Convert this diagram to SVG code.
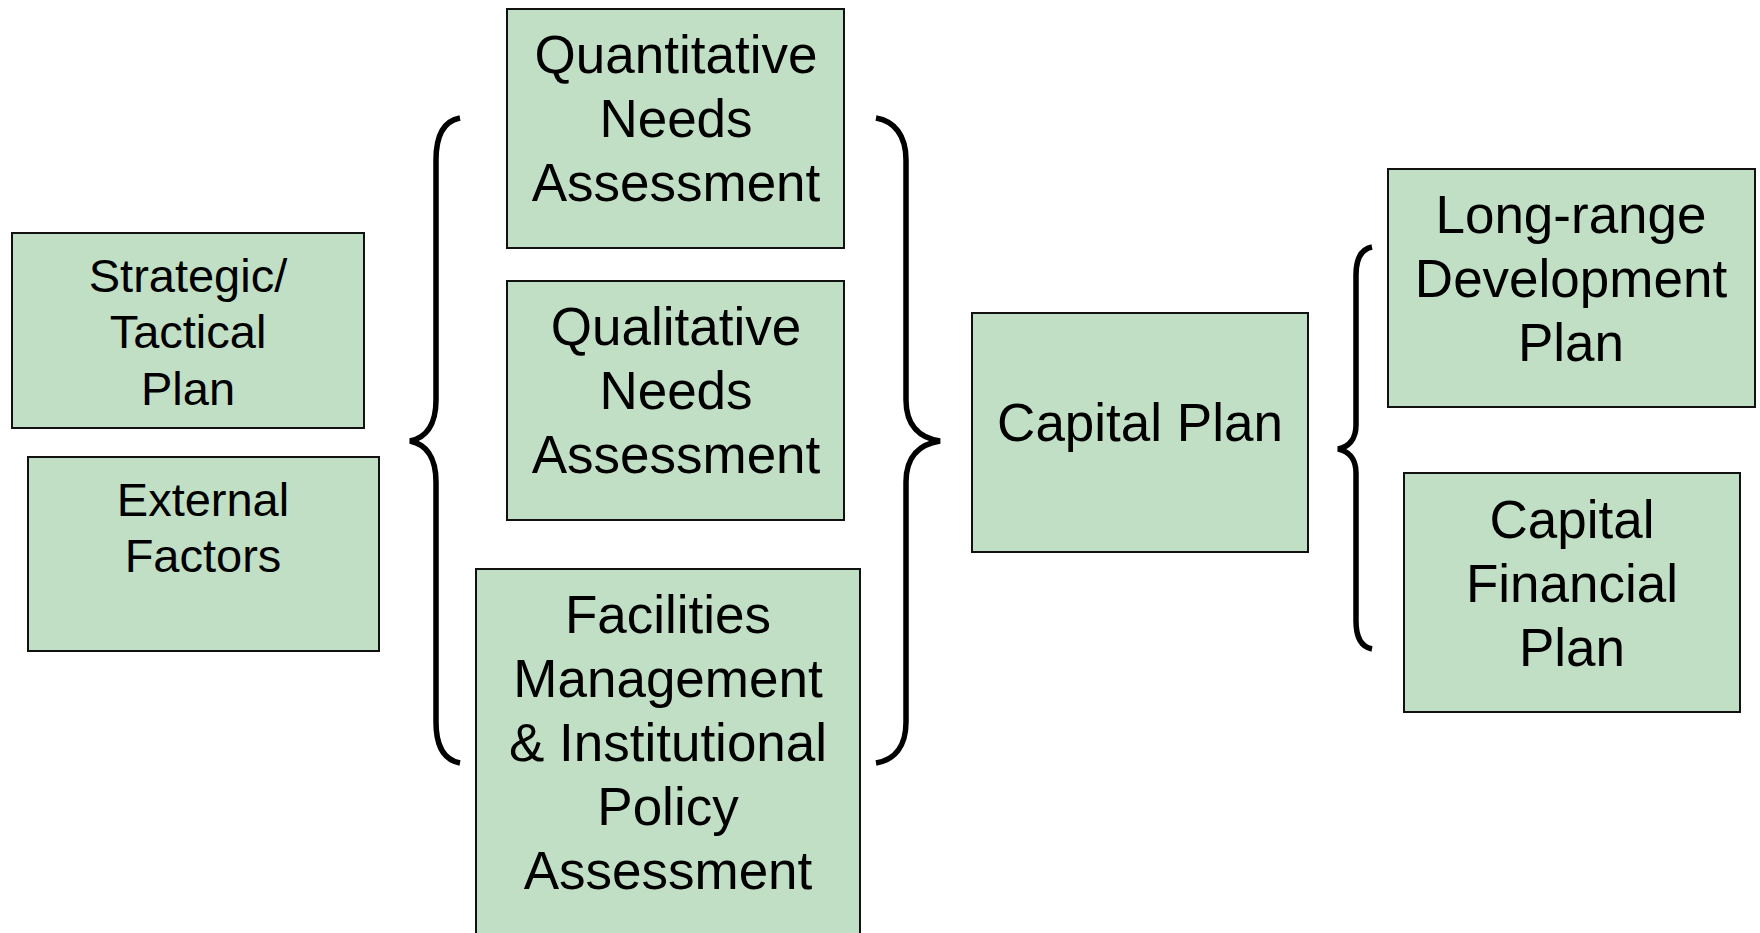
<svg xmlns="http://www.w3.org/2000/svg" width="1760" height="933" viewBox="0 0 1760 933">
<style>
.box{fill:#c1dfc5;stroke:#111;stroke-width:2}
.t{font-family:"Liberation Sans",Arial,sans-serif;font-size:53px;fill:#000;text-anchor:middle}
.s{font-size:47px}
.br{fill:none;stroke:#000;stroke-width:5.5;stroke-linecap:butt}
</style>
<rect width="1760" height="933" fill="#fff"/>
<g id="connectors">
<path class="br" d="M460,118 C444,121 436,135 436,160 L436,400 C436,426 425,438 410,441 C425,444 436,456 436,482 L436,722 C436,747 444,760 460,763"/>
<path class="br" d="M876,118 C894,121 906,135 906,160 L906,400 C906,426 920,438 940,441 C920,444 906,456 906,482 L906,722 C906,747 894,760 876,763"/>
<path class="br" d="M1372,247 C1362,249 1356,258 1356,275 L1356,425 C1356,440 1348,447 1338,449 C1348,451 1356,458 1356,473 L1356,621 C1356,638 1362,647 1372,649"/>
</g>
<g id="strategic">
<rect class="box" x="12" y="233" width="352" height="195"/>
<text class="t s" x="188" y="292">Strategic/</text>
<text class="t s" x="188" y="348">Tactical</text>
<text class="t s" x="188" y="405">Plan</text>
</g>
<g id="external">
<rect class="box" x="28" y="457" width="351" height="194"/>
<text class="t s" x="203" y="516">External</text>
<text class="t s" x="203" y="572">Factors</text>
</g>
<g id="quantitative">
<rect class="box" x="507" y="9" width="337" height="239"/>
<text class="t" x="676" y="73">Quantitative</text>
<text class="t" x="676" y="137">Needs</text>
<text class="t" x="676" y="201">Assessment</text>
</g>
<g id="qualitative">
<rect class="box" x="507" y="281" width="337" height="239"/>
<text class="t" x="676" y="345">Qualitative</text>
<text class="t" x="676" y="409">Needs</text>
<text class="t" x="676" y="473">Assessment</text>
</g>
<g id="facilities">
<rect class="box" x="476" y="569" width="384" height="370"/>
<text class="t" x="668" y="633">Facilities</text>
<text class="t" x="668" y="697">Management</text>
<text class="t" x="668" y="761">&amp; Institutional</text>
<text class="t" x="668" y="825">Policy</text>
<text class="t" x="668" y="889">Assessment</text>
</g>
<g id="capital-plan">
<rect class="box" x="972" y="313" width="336" height="239"/>
<text class="t" x="1140" y="441">Capital Plan</text>
</g>
<g id="long-range">
<rect class="box" x="1388" y="169" width="367" height="238"/>
<text class="t" x="1571" y="233">Long-range</text>
<text class="t" x="1571" y="297">Development</text>
<text class="t" x="1571" y="361">Plan</text>
</g>
<g id="capital-financial">
<rect class="box" x="1404" y="473" width="336" height="239"/>
<text class="t" x="1572" y="538">Capital</text>
<text class="t" x="1572" y="602">Financial</text>
<text class="t" x="1572" y="666">Plan</text>
</g>
</svg>
